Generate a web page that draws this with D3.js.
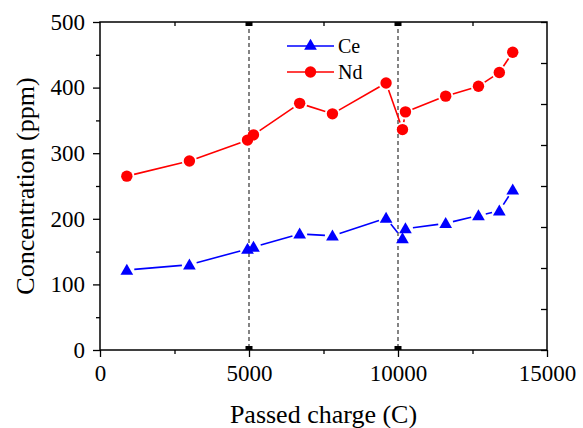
<!DOCTYPE html>
<html>
<head>
<meta charset="utf-8">
<script src="https://cdn.jsdelivr.net/npm/d3@7"></script>
<style>
  body { margin: 0; background: #fff; }
  text { font-family: "Liberation Serif", "Times New Roman", serif; fill: #000; }
</style>
</head>
<body>
<div id="chart"></div>
<script>
// ---------------- data ----------------
var charge = [900, 3000, 4950, 5150, 6700, 7800, 9600, 10150, 10250, 11600, 12700, 13400, 13850];
var ceValues = [122, 130, 154, 157, 177, 174, 201, 170, 185, 193, 205, 212, 244];
var ndValues = [265, 288, 320, 328, 376, 360, 407, 336, 363, 387, 402, 423, 454];
var xTicks = [0, 5000, 10000, 15000];
var yTicks = [0, 100, 200, 300, 400, 500];
var markerLines = [5000, 10000];

var serif = "Liberation Serif";

// ---------------- svg ----------------
var svgWidth = 583, svgHeight = 428;
var margin = { top: 22, right: 36, bottom: 78, left: 100 };
var width = 547 - margin.left;
var height = 350 - margin.top;

var svg = d3.select("#chart").append("svg")
  .attr("width", svgWidth)
  .attr("height", svgHeight)
  .attr("font-family", serif);

var g = svg.append("g")
  .attr("transform", `translate(${margin.left}, ${margin.top})`);

var x = d3.scaleLinear().domain([0, 15000]).range([0, width]);
var y = d3.scaleLinear().domain([0, 500]).range([height, 0]);
// right axis is a separate layer with its own ticks
var yRight = d3.scaleLinear().domain([0, 8]).range([height, 0]);

// dashed vertical lines
g.selectAll(".vline")
  .data(markerLines)
  .enter().append("line")
  .attr("x1", d => x(d)).attr("x2", d => x(d))
  .attr("y1", 0).attr("y2", height)
  .attr("stroke", "#333")
  .attr("stroke-width", 1.2)
  .attr("stroke-dasharray", "4,3");

// small black squares at the ends of the dashed lines
markerLines.forEach(function(v) {
  g.append("rect").attr("x", x(v) - 3.5).attr("y", 0).attr("width", 7).attr("height", 4).attr("fill", "#000");
  g.append("rect").attr("x", x(v) - 3.5).attr("y", height - 4).attr("width", 7).attr("height", 4).attr("fill", "#000");
});

// ---------------- axes ----------------
function styleAxis(sel) {
  sel.select(".domain").remove();
  sel.attr("font-family", serif).attr("font-size", 23);
  sel.selectAll("line").attr("stroke", "#000").attr("stroke-width", 1.3);
  sel.selectAll("text").attr("font-family", serif).attr("font-size", 23);
}

// minor ticks
g.append("g")
  .attr("transform", `translate(0, ${height})`)
  .call(d3.axisBottom(x).tickValues(d3.range(2500, 15000, 5000)).tickSize(4).tickFormat(""))
  .call(styleAxis);
g.append("g")
  .call(d3.axisLeft(y).tickValues(d3.range(50, 500, 100)).tickSize(4).tickFormat(""))
  .call(styleAxis);
g.append("g")
  .call(d3.axisBottom(x).tickValues(d3.range(2500, 15000, 2500)).tickSize(4).tickFormat(""))
  .call(styleAxis);
g.append("g")
  .attr("transform", `translate(${width}, 0)`)
  .call(d3.axisLeft(yRight).ticks(8).tickSize(6).tickFormat(""))
  .call(styleAxis);

// major ticks + labels
var xAxis = g.append("g")
  .attr("transform", `translate(0, ${height})`)
  .call(d3.axisBottom(x).tickValues(xTicks).tickSize(7).tickPadding(8).tickFormat(d3.format("d")))
  .call(styleAxis);
xAxis.selectAll("text").attr("dy", "0.71em");

var yAxis = g.append("g")
  .call(d3.axisLeft(y).tickValues(yTicks).tickSize(7).tickPadding(8).tickFormat(d3.format("d")))
  .call(styleAxis);

// frame
g.append("rect")
  .attr("width", width).attr("height", height)
  .attr("fill", "none").attr("stroke", "#000").attr("stroke-width", 1.5);

// axis titles
svg.append("text")
  .attr("x", margin.left + width / 2)
  .attr("y", 423)
  .attr("text-anchor", "middle")
  .attr("font-size", 26)
  .text("Passed charge (C)");

svg.append("text")
  .attr("transform", "translate(34, 186) rotate(-90)")
  .attr("text-anchor", "middle")
  .attr("font-size", 26)
  .text("Concentration (ppm)");

// ---------------- series ----------------
var triangle = d3.symbol().type(d3.symbolTriangle).size(70);
var gap = 7.5;

function drawSeries(values, color, shape) {
  var pts = charge.map((c, i) => [x(c), y(values[i])]);
  // line segments with a small gap at each marker
  for (var i = 0; i < pts.length - 1; i++) {
    var a = pts[i], b = pts[i + 1];
    var dx = b[0] - a[0], dy = b[1] - a[1];
    var len = Math.sqrt(dx * dx + dy * dy);
    if (len <= 2 * gap) continue;
    var ux = dx / len, uy = dy / len;
    g.append("line")
      .attr("x1", a[0] + ux * gap).attr("y1", a[1] + uy * gap)
      .attr("x2", b[0] - ux * gap).attr("y2", b[1] - uy * gap)
      .attr("stroke", color).attr("stroke-width", 1.6);
  }
  if (shape === "circle") {
    g.selectAll(null).data(pts).enter().append("circle")
      .attr("cx", d => d[0]).attr("cy", d => d[1]).attr("r", 5.7)
      .attr("fill", color);
  } else {
    g.selectAll(null).data(pts).enter().append("path")
      .attr("d", triangle)
      .attr("transform", d => `translate(${d[0]}, ${d[1] + 1})`)
      .attr("fill", color);
  }
}

drawSeries(ndValues, "#ff0000", "circle");
drawSeries(ceValues, "#0000ff", "triangle");

// ---------------- legend ----------------
var legend = svg.append("g").attr("transform", "translate(287, 46)");
var legendItems = [
  { name: "Ce", color: "#0000ff", shape: "triangle" },
  { name: "Nd", color: "#ff0000", shape: "circle" }
];
legendItems.forEach(function(item, i) {
  var row = legend.append("g").attr("transform", `translate(0, ${i * 26})`);
  row.append("line").attr("x1", 0).attr("x2", 47).attr("y1", 0).attr("y2", 0)
    .attr("stroke", item.color).attr("stroke-width", 1.6);
  if (item.shape === "circle") {
    row.append("circle").attr("cx", 23.5).attr("cy", 0).attr("r", 5.7).attr("fill", item.color);
  } else {
    row.append("path").attr("d", triangle).attr("transform", "translate(23.5, 0)").attr("fill", item.color);
  }
  row.append("text").attr("x", 51).attr("y", 7).attr("font-size", 20).text(item.name);
});
</script>
</body>
</html>
